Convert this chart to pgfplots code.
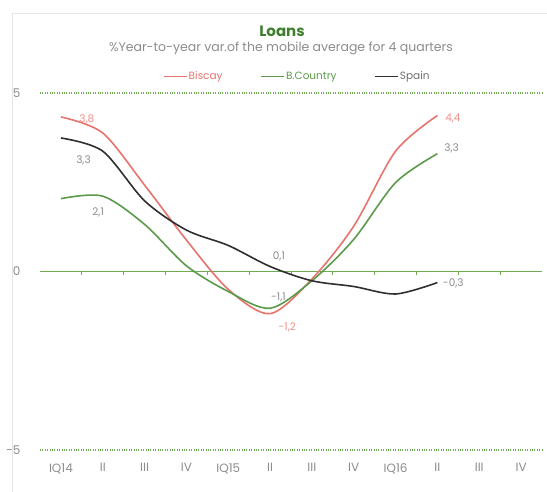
\documentclass[border=0pt]{standalone}
\usepackage{pgfplots}
\pgfplotsset{compat=1.18}
\usepackage{fontspec}
\setmainfont{Poppins}
\definecolor{cBiscay}{HTML}{E8736C}
\definecolor{cBC}{HTML}{5B9A4A}
\definecolor{cSpain}{HTML}{2E2E33}
\definecolor{cGrid}{HTML}{6FAA55}
\definecolor{cText}{HTML}{8C8C8C}
\definecolor{cTitle}{HTML}{3E7F2E}
\begin{document}
\begin{tikzpicture}
\useasboundingbox (0pt,0pt) rectangle (547pt,492pt);
% faint frame
\draw[black!10, line width=0.8pt] (12pt,0pt) -- (12pt,479pt) -- (547pt,479pt);
% title and subtitle
\node[font=\bfseries\fontsize{15}{15}\selectfont, text=cTitle] at (282pt,461pt) {Loans};
\node[font=\fontsize{12.5}{12.5}\selectfont, text=cText] at (281pt,444pt) {\%Year-to-year var.of the mobile average for 4 quarters};
\begin{axis}[
  at={(40pt,42pt)}, anchor=south west,
  scale only axis, width=502pt, height=357pt,
  xmin=-0.5, xmax=11.5, ymin=-5, ymax=5,
  axis line style={draw=none},
  major tick length=0pt,
  xtick={0,...,11},
  xticklabels={IQ14,II,III,IV,IQ15,II,III,IV,IQ16,II,III,IV},
  xticklabel style={font=\fontsize{12}{12}\selectfont, text=cText, yshift=-10pt},
  ytick={-5,5},
  yticklabels={-5,5},
  extra y ticks={0},
  extra y tick labels={0},
  extra y tick style={grid style={cGrid, solid, line width=1.1pt}},
  yticklabel style={font=\fontsize{12}{12}\selectfont, text=cText, xshift=-16pt},
  ymajorgrids,
  grid style={cGrid, dotted, line width=1.3pt},
  clip=false,
  legend columns=3,
  legend style={at={(0.5,1)}, anchor=south, xshift=6pt, yshift=10pt,
    draw=none, fill=none, font=\fontsize{10.5}{10.5}\selectfont,
    /tikz/every even column/.append style={column sep=36pt},
    inner sep=0pt, nodes={inner sep=1.5pt}},
  legend image code/.code={\draw[#1, line width=1.4pt] (0pt,0pt) -- (23pt,0pt);},
]
% small tick marks on the zero line
\pgfplotsinvokeforeach{0.5,1.5,2.5,3.5,4.5,5.5,6.5,7.5,8.5,9.5,10.5}{
  \draw[cGrid, line width=1pt] (axis cs:#1,0) -- (axis cs:#1,-0.09);
}
\addplot[cBiscay, line width=1.6pt, smooth] coordinates {
  (0,4.33) (1,3.88) (2,2.42) (3,0.88) (4,-0.50) (5,-1.18) (6,-0.21) (7,1.27) (8,3.37) (9,4.37)};
\addlegendentry{\textcolor{cBiscay}{Biscay}}
\addplot[cBC, line width=1.6pt, smooth] coordinates {
  (0,2.04) (1,2.11) (2,1.32) (3,0.16) (4,-0.56) (5,-1.03) (6,-0.26) (7,0.90) (8,2.49) (9,3.30)};
\addlegendentry{\textcolor{cBC}{B.Country}}
\addplot[cSpain, line width=1.6pt, smooth] coordinates {
  (0,3.74) (1,3.37) (2,1.98) (3,1.16) (4,0.73) (5,0.14) (6,-0.26) (7,-0.42) (8,-0.63) (9,-0.31)};
\addlegendentry{\textcolor{cSpain!70}{Spain}}
% value labels
\begin{scope}[font=\fontsize{10.5}{10.5}\selectfont]
\node[text=cBiscay!80] at (axis cs:0.62,4.27) {3,8};
\node[text=cText] at (axis cs:0.54,3.10) {3,3};
\node[text=cText] at (axis cs:0.89,1.65) {2,1};
\node[text=cText] at (axis cs:5.21,0.42) {0,1};
\node[text=cText] at (axis cs:5.20,-0.73) {-1,1};
\node[text=cBiscay!80] at (axis cs:5.41,-1.57) {-1,2};
\node[text=cBiscay!80] at (axis cs:9.37,4.29) {4,4};
\node[text=cText] at (axis cs:9.34,3.45) {3,3};
\node[text=cText] at (axis cs:9.38,-0.33) {-0,3};
\end{scope}
\end{axis}
\end{tikzpicture}
\end{document}
